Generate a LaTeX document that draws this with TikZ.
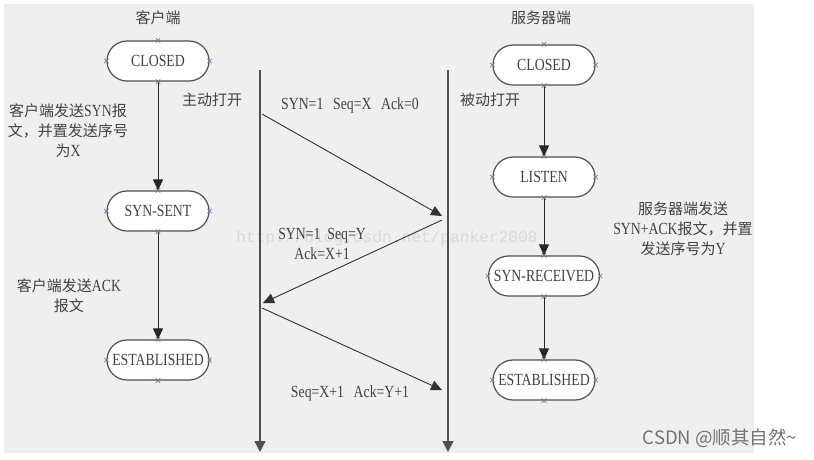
\documentclass[tikz,border=0pt]{standalone}
\usepackage{fontspec}
\setmainfont{Liberation Serif}[FakeStretch=0.81]
\newfontfamily\cjk{Noto Sans CJK SC}
\newfontfamily\wmfont{Liberation Mono}
\newfontfamily\csdnfont{Noto Sans CJK SC}
\usetikzlibrary{arrows.meta}
\definecolor{bgc}{HTML}{EFEFEF}
\definecolor{txt}{HTML}{424242}
\definecolor{edge}{HTML}{505050}
\definecolor{mkc}{HTML}{7078A8}
\newcommand\zh[1]{{\cjk\fontsize{15}{20}\selectfont #1}}
\newcommand\anchormarks[1]{%
  \foreach \a in {north,south,east,west}{%
    \draw[draw=mkc, line width=0.6pt] ([shift={(-2.2,-2.2)}]#1.\a) -- ([shift={(2.2,2.2)}]#1.\a)
      ([shift={(-2.2,2.2)}]#1.\a) -- ([shift={(2.2,-2.2)}]#1.\a);}}
\begin{document}
\begin{tikzpicture}[x=1pt,y=-1pt,
  state/.style={draw=edge, line width=1.2pt, fill=white, rounded corners=20pt,
    minimum width=102pt, minimum height=40pt, inner sep=0pt, text=txt,
    font=\fontsize{17}{20}\selectfont},
  lbl/.style={text=txt, font=\fontsize{17}{20}\selectfont, align=center, inner sep=0pt},
  flow/.style={draw=black!85, line width=1pt, -{Triangle[width=10pt,length=11pt]}},
  life/.style={draw=edge, line width=1.3pt, -{Triangle[width=11pt,length=11pt]}},
  msg/.style={draw=black!80, line width=0.9pt, -{Triangle[width=10pt,length=11pt]}},
]
\useasboundingbox (0,0) rectangle (814,459);
\fill[white] (0,0) rectangle (814,459);
\fill[bgc] (4,4) rectangle (754,453);

% watermark
\node[text=black!15, font=\wmfont\fontsize{16.2}{18}\selectfont, inner sep=0pt] (wm) at (387,238) {http://blog.csdn.net/panker2008};

% headers
\node[lbl] (hc) at (158,18) {\zh{客户端}};
\node[lbl] (hs) at (541,18) {\zh{服务器端}};

% client states
\node[state] (c1) at (158,61) {CLOSED};
\node[state] (c2) at (158,211) {SYN-SENT};
\node[state] (c3) at (158,360) {ESTABLISHED};
\draw[flow] (c1) -- (c2);
\draw[flow] (c2) -- (c3);

% server states
\node[state] (s1) at (544,65) {CLOSED};
\node[state] (s2) at (544,177) {LISTEN};
\node[state, minimum width=111pt] (s3) at (544,276) {SYN-RECEIVED};
\node[state] (s4) at (544,380) {ESTABLISHED};
\draw[flow] (s1) -- (s2);
\draw[flow] (s2) -- (s3);
\draw[flow] (s3) -- (s4);

\anchormarks{c1}\anchormarks{c2}\anchormarks{c3}
\anchormarks{s1}\anchormarks{s2}\anchormarks{s3}\anchormarks{s4}

% side texts
\node[lbl] (tc1) at (68,131) {\zh{客户端发送}SYN\zh{报}\\\zh{文，并置发送序号}\\\zh{为}X};
\node[lbl] (tc2) at (69,296) {\zh{客户端发送}ACK\\\zh{报文}};
\node[lbl] (ts1) at (683,229) {\zh{服务器端发送}\\SYN+ACK\zh{报文，并置}\\\zh{发送序号为}Y};
\node[lbl] (ao) at (212,100) {\zh{主动打开}};
\node[lbl] (po) at (490,100) {\zh{被动打开}};

% lifelines
\coordinate (cta) at (260,70);
\coordinate (ctb) at (260,452);
\coordinate (sta) at (448,70);
\coordinate (stb) at (448,452);
\draw[life] (cta) -- (ctb);
\draw[life] (sta) -- (stb);

% messages
\coordinate (m1s) at (262,114);
\coordinate (m1e) at (442,216);
\coordinate (m2s) at (442,220);
\coordinate (m2e) at (263,303);
\coordinate (m3s) at (262,308);
\coordinate (m3e) at (442,390);
\draw[msg] (m1s) -- (m1e);
\draw[msg] (m2s) -- (m2e);
\draw[msg] (m3s) -- (m3e);

\node[lbl] (l1) at (350,105) {SYN=1\ \ \,Seq=X\ \ \,Ack=0};
\node[lbl] (l2) at (322,244) {SYN=1\ \ Seq=Y\\Ack=X+1};
\node[lbl] (l3) at (350,393) {Seq=X+1\ \ \,Ack=Y+1};

% footer
\node[text=black!55, font=\csdnfont\fontsize{18.5}{20}\selectfont, inner sep=0pt] (csdn) at (720,438) {CSDN @顺其自然\textasciitilde};
\end{tikzpicture}
\end{document}
